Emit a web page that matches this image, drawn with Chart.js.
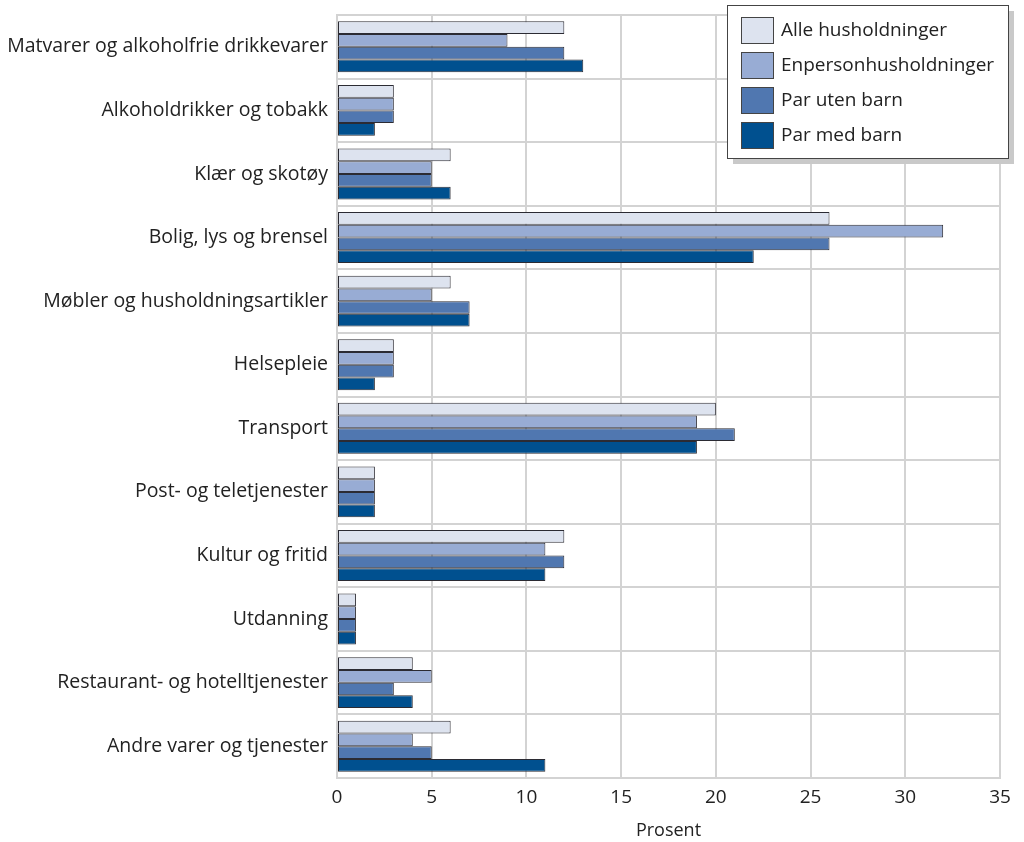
<!DOCTYPE html>
<html>
<head>
<meta charset="utf-8">
<script src="https://cdn.jsdelivr.net/npm/chart.js@4.4.1/dist/chart.umd.min.js"></script>
<style>
  html, body { margin: 0; padding: 0; background: #fff; }
  #wrap { width: 1024px; height: 842px; position: relative; }
</style>
</head>
<body>
<div id="wrap"><canvas id="forbruk"></canvas></div>
<script>
const categories = [
    'Matvarer og alkoholfrie drikkevarer',
    'Alkoholdrikker og tobakk',
    'Klær og skotøy',
    'Bolig, lys og brensel',
    'Møbler og husholdningsartikler',
    'Helsepleie',
    'Transport',
    'Post- og teletjenester',
    'Kultur og fritid',
    'Utdanning',
    'Restaurant- og hotelltjenester',
    'Andre varer og tjenester'
];
const seriesNames = ['Alle husholdninger', 'Enpersonhusholdninger', 'Par uten barn', 'Par med barn'];
const alle      = [12, 3, 6, 26, 6, 3, 20, 2, 12, 1, 4, 6];
const enperson  = [9, 3, 5, 32, 5, 3, 19, 2, 11, 1, 5, 4];
const parUten   = [12, 3, 5, 26, 7, 3, 21, 2, 12, 1, 3, 5];
const parMed    = [13, 2, 6, 22, 7, 2, 19, 2, 11, 1, 4, 11];
const xTicks = [0, 5, 10, 15, 20, 25, 30, 35];

const colors = ['#dde3ef', '#98acd4', '#5077b0', '#00508f'];
const fontFamily = '"Open Sans", "Noto Sans", sans-serif';
const gridColor = '#d3d3d3';

const values = [alle, enperson, parUten, parMed];
const datasets = values.map(function (v, i) {
    return {
        label: seriesNames[i],
        data: v,
        backgroundColor: colors[i],
        borderColor: '#2b2b33',
        borderWidth: 1,
        borderSkipped: false,
        categoryPercentage: 0.8,
        barPercentage: 1.0
    };
});

// legend box with shadow, drawn in the top right corner
const boxLegend = {
    id: 'boxLegend',
    afterDraw: function (chart) {
        const c = chart.ctx;
        const x = 727, y = 5, w = 281, h = 153;
        c.save();
        c.fillStyle = '#c9c9c9';
        c.fillRect(x + 6, y + 6, w, h);
        c.fillStyle = '#ffffff';
        c.fillRect(x, y, w, h);
        c.strokeStyle = '#444';
        c.lineWidth = 1;
        c.strokeRect(x + 0.5, y + 0.5, w, h);
        c.font = '19px ' + fontFamily;
        c.textBaseline = 'middle';
        chart.data.datasets.forEach(function (ds, i) {
            const sy = y + 12 + i * 35;
            c.fillStyle = ds.backgroundColor;
            c.fillRect(x + 14, sy, 32, 26);
            c.strokeStyle = '#444';
            c.strokeRect(x + 14.5, sy + 0.5, 32, 26);
            c.fillStyle = '#222';
            c.fillText(ds.label, x + 54, sy + 14);
        });
        c.restore();
    }
};

new Chart(document.getElementById('forbruk'), {
    type: 'bar',
    data: { labels: categories, datasets: datasets },
    plugins: [boxLegend],
    options: {
        indexAxis: 'y',
        responsive: true,
        maintainAspectRatio: false,
        animation: false,
        layout: { padding: { top: 15, right: 24, left: 0, bottom: 0 } },
        plugins: {
            legend: { display: false },
            tooltip: { enabled: false }
        },
        scales: {
            x: {
                min: 0,
                max: 35,
                afterBuildTicks: function (scale) {
                    scale.ticks = xTicks.map(function (v) { return { value: v }; });
                },
                afterFit: function (scale) { scale.height = 64; },
                grid: { color: gridColor, lineWidth: 2, drawTicks: false },
                border: { color: gridColor, width: 2 },
                ticks: { color: '#222', font: { family: fontFamily, size: 19 }, padding: 8, maxRotation: 0 },
                title: {
                    display: true,
                    text: 'Prosent',
                    color: '#222',
                    font: { family: fontFamily, size: 18 },
                    padding: { top: 2, bottom: 0 }
                }
            },
            y: {
                afterFit: function (scale) {
                    scale.width = 337;
                    scale.paddingTop = 0;
                    scale.paddingBottom = 0;
                },
                grid: { color: gridColor, lineWidth: 2, drawTicks: false, offset: true },
                border: { color: gridColor, width: 2 },
                ticks: { color: '#222', font: { family: fontFamily, size: 19.5 }, padding: 9 }
            }
        }
    }
});
</script>
</body>
</html>
